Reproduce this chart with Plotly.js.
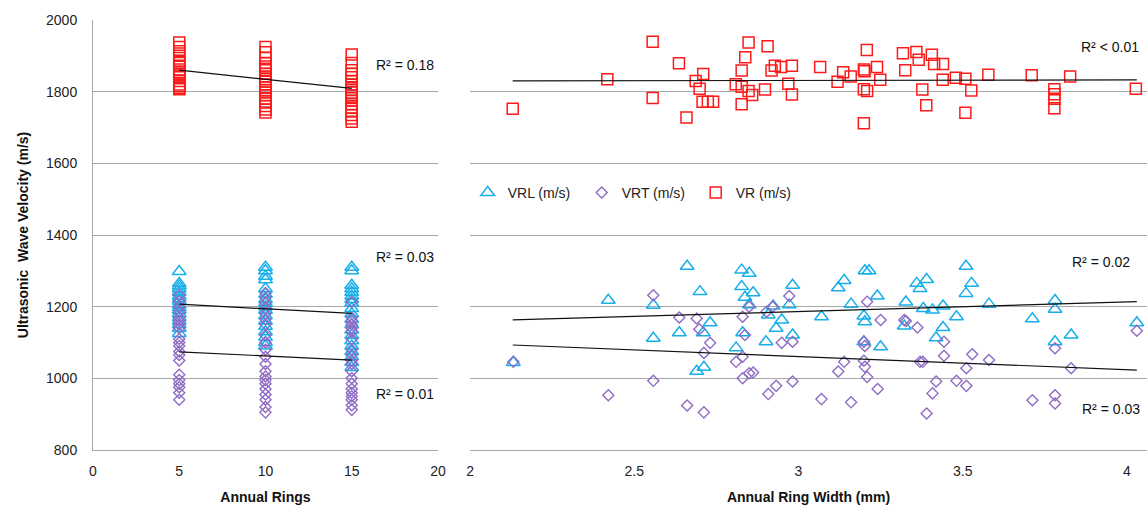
<!DOCTYPE html>
<html>
<head>
<meta charset="utf-8">
<script src="https://cdn.plot.ly/plotly-3.0.1.min.js"></script>
<style>html,body{margin:0;padding:0;background:#fff;}#chart{width:1147px;height:507px;}</style>
</head>
<body>
<div id="chart"></div>
<script>
// ---------- Left panel: velocity by number of annual rings ----------
const ringGroups = [5, 10, 15];
const vrByRing = [
  [1937, 1925, 1913, 1900, 1886, 1880, 1872, 1862, 1855, 1850, 1845, 1840, 1830, 1820, 1815, 1810, 1807],
  [1925, 1910, 1895, 1880, 1870, 1860, 1850, 1842, 1835, 1828, 1820, 1812, 1805, 1798, 1790, 1780, 1770, 1760, 1750, 1742],
  [1904, 1880, 1860, 1850, 1840, 1830, 1820, 1812, 1805, 1798, 1790, 1782, 1775, 1765, 1755, 1745, 1735, 1725, 1716]
];
const vrlByRing = [
  [1298, 1265, 1258, 1250, 1240, 1230, 1222, 1215, 1205, 1198, 1190, 1180, 1170, 1160, 1150, 1140, 1125],
  [1310, 1300, 1285, 1275, 1250, 1235, 1220, 1210, 1200, 1190, 1175, 1160, 1145, 1130, 1115, 1100, 1090],
  [1310, 1300, 1260, 1250, 1240, 1230, 1220, 1210, 1195, 1180, 1165, 1150, 1135, 1120, 1105, 1090, 1075, 1060, 1045, 1030]
];
const vrtByRing = [
  [1232, 1215, 1200, 1185, 1170, 1160, 1150, 1140, 1110, 1100, 1090, 1075, 1065, 1050, 1010, 995, 985, 975, 960, 940],
  [1238, 1225, 1210, 1195, 1180, 1165, 1150, 1120, 1100, 1080, 1060, 1040, 1020, 1005, 995, 985, 970, 955, 940, 920, 905],
  [1213, 1170, 1160, 1150, 1140, 1130, 1110, 1080, 1065, 1050, 1040, 1020, 1000, 985, 970, 960, 950, 940, 925, 912]
];
// linear trend end points (left)
const trendLeftX = [5, 15];
const trendLeftVR = [1860, 1809];
const trendLeftVRL = [1207, 1181];
const trendLeftVRT = [1074, 1051];

// ---------- Right panel: velocity by annual ring width (mm) ----------
const widthVR = [2.130, 2.418, 2.556, 2.556, 2.636, 2.659, 2.687, 2.710, 2.699, 2.708, 2.724, 2.740, 2.809, 2.827, 2.838, 2.848, 2.827, 2.848, 2.859, 2.827, 2.898, 2.906, 2.918, 2.928, 2.947, 2.980, 2.969, 2.980, 3.066, 3.119, 3.136, 3.159, 3.208, 3.199, 3.201, 3.239, 3.249, 3.199, 3.209, 3.199, 3.318, 3.325, 3.359, 3.366, 3.406, 3.413, 3.440, 3.439, 3.377, 3.389, 3.479, 3.508, 3.526, 3.508, 3.578, 3.710, 3.779, 3.779, 3.779, 3.779, 3.827, 4.027];
const velVR = [1752, 1835, 1939, 1782, 1879, 1728, 1830, 1849, 1808, 1772, 1772, 1772, 1821, 1859, 1896, 1937, 1814, 1802, 1791, 1765, 1806, 1927, 1859, 1872, 1869, 1872, 1822, 1792, 1869, 1828, 1854, 1842, 1916, 1862, 1857, 1869, 1833, 1807, 1802, 1712, 1907, 1860, 1911, 1889, 1903, 1877, 1877, 1833, 1806, 1762, 1839, 1836, 1803, 1741, 1847, 1846, 1807, 1793, 1780, 1754, 1842, 1808];

const widthVRL = [2.132, 2.421, 2.558, 2.558, 2.661, 2.700, 2.637, 2.710, 2.731, 2.690, 2.712, 2.827, 2.850, 2.827, 2.862, 2.837, 2.850, 2.830, 2.810, 2.901, 2.908, 2.923, 2.949, 2.932, 2.972, 2.982, 2.982, 3.070, 3.121, 3.139, 3.160, 3.202, 3.215, 3.199, 3.202, 3.199, 3.240, 3.250, 3.327, 3.322, 3.360, 3.370, 3.390, 3.380, 3.408, 3.440, 3.440, 3.419, 3.481, 3.510, 3.527, 3.510, 3.580, 3.712, 3.781, 3.781, 3.781, 3.830, 4.030];
const velVRL = [1044, 1218, 1204, 1112, 1313, 1242, 1127, 1127, 1155, 1020, 1031, 1302, 1293, 1256, 1239, 1226, 1205, 1127, 1085, 1102, 1177, 1202, 1163, 1140, 1205, 1260, 1121, 1172, 1253, 1273, 1207, 1300, 1300, 1174, 1158, 1102, 1230, 1088, 1213, 1146, 1265, 1251, 1276, 1195, 1191, 1202, 1142, 1113, 1172, 1313, 1265, 1237, 1207, 1166, 1217, 1193, 1102, 1121, 1155];

const widthVRT = [2.132, 2.421, 2.558, 2.558, 2.637, 2.690, 2.698, 2.731, 2.712, 2.661, 2.712, 2.810, 2.830, 2.830, 2.837, 2.850, 2.830, 2.850, 2.862, 2.903, 2.921, 2.949, 2.908, 2.932, 2.972, 2.982, 2.982, 3.070, 3.121, 3.139, 3.160, 3.209, 3.199, 3.202, 3.199, 3.202, 3.209, 3.241, 3.250, 3.322, 3.327, 3.362, 3.370, 3.378, 3.390, 3.408, 3.419, 3.443, 3.443, 3.481, 3.511, 3.511, 3.529, 3.580, 3.712, 3.781, 3.781, 3.781, 3.830, 4.030];
const velVRT = [1046, 953, 1232, 993, 1170, 1167, 1137, 1099, 1071, 924, 905, 1046, 1060, 1172, 1121, 1200, 1000, 1014, 1016, 1186, 1200, 1099, 956, 979, 1230, 1102, 991, 942, 1019, 1046, 933, 1214, 1102, 1090, 1049, 1032, 1004, 970, 1163, 1163, 1160, 1142, 1046, 1046, 902, 958, 991, 1102, 1063, 993, 1028, 979, 1067, 1051, 939, 953, 930, 1084, 1028, 1133];

const trendRightX = [2.13, 4.03];
const trendRightVR = [1830, 1833];
const trendRightVRL = [1163, 1214];
const trendRightVRT = [1093, 1023];

const seriesNames = ['VRL (m/s)', 'VRT (m/s)', 'VR (m/s)'];
const r2Labels = {
  leftVR: 'R² = 0.18', leftVRL: 'R² = 0.03', leftVRT: 'R² = 0.01',
  rightVR: 'R² < 0.01', rightVRL: 'R² = 0.02', rightVRT: 'R² = 0.03'
};

// ---------- styles ----------
const FONT = 'Liberation Sans, Arial, sans-serif';
const cVRL = '#17aee9', cVRT = '#8f6cc4', cVR = '#ff1a1a';
const mVRL = {symbol: 'triangle-up-open', size: 12, color: cVRL, line: {width: 1.5, color: cVRL}};
const mVRT = {symbol: 'diamond-open', size: 8.5, color: cVRT, line: {width: 1.4, color: cVRT}};
const mVR  = {symbol: 'square-open', size: 11, color: cVR, line: {width: 1.5, color: cVR}};

function expand(groups, vals) {
  const x = [], y = [];
  groups.forEach((g, i) => vals[i].forEach(v => { x.push(g); y.push(v); }));
  return {x, y};
}
const lVR = expand(ringGroups, vrByRing);
const lVRL = expand(ringGroups, vrlByRing);
const lVRT = expand(ringGroups, vrtByRing);

const trendLine = {color: '#111', width: 1.2};
const traces = [
  // right panel (legend)
  {x: widthVRL, y: velVRL, xaxis: 'x2', yaxis: 'y2', mode: 'markers', type: 'scatter', name: seriesNames[0], marker: mVRL},
  {x: widthVRT, y: velVRT, xaxis: 'x2', yaxis: 'y2', mode: 'markers', type: 'scatter', name: seriesNames[1], marker: mVRT},
  {x: widthVR, y: velVR, xaxis: 'x2', yaxis: 'y2', mode: 'markers', type: 'scatter', name: seriesNames[2], marker: mVR},
  // left panel
  {x: lVRL.x, y: lVRL.y, xaxis: 'x', yaxis: 'y', mode: 'markers', type: 'scatter', name: seriesNames[0], marker: mVRL, showlegend: false},
  {x: lVRT.x, y: lVRT.y, xaxis: 'x', yaxis: 'y', mode: 'markers', type: 'scatter', name: seriesNames[1], marker: mVRT, showlegend: false},
  {x: lVR.x, y: lVR.y, xaxis: 'x', yaxis: 'y', mode: 'markers', type: 'scatter', name: seriesNames[2], marker: mVR, showlegend: false},
  // trend lines
  {x: trendLeftX, y: trendLeftVR, xaxis: 'x', yaxis: 'y', mode: 'lines', line: trendLine, showlegend: false, hoverinfo: 'skip'},
  {x: trendLeftX, y: trendLeftVRL, xaxis: 'x', yaxis: 'y', mode: 'lines', line: trendLine, showlegend: false, hoverinfo: 'skip'},
  {x: trendLeftX, y: trendLeftVRT, xaxis: 'x', yaxis: 'y', mode: 'lines', line: trendLine, showlegend: false, hoverinfo: 'skip'},
  {x: trendRightX, y: trendRightVR, xaxis: 'x2', yaxis: 'y2', mode: 'lines', line: trendLine, showlegend: false, hoverinfo: 'skip'},
  {x: trendRightX, y: trendRightVRL, xaxis: 'x2', yaxis: 'y2', mode: 'lines', line: trendLine, showlegend: false, hoverinfo: 'skip'},
  {x: trendRightX, y: trendRightVRT, xaxis: 'x2', yaxis: 'y2', mode: 'lines', line: trendLine, showlegend: false, hoverinfo: 'skip'}
];

const gridC = '#a8a8a8';
const tickFont = {family: FONT, size: 14, color: '#222'};
const titleFont = {family: FONT, size: 14, color: '#111', weight: 'bold'};

function ann(xref, yref, x, y, text) {
  return {xref, yref, x, y, text, showarrow: false, xanchor: 'center', yanchor: 'middle',
          font: {family: FONT, size: 14, color: '#111'}};
}

const layout = {
  width: 1147, height: 507,
  margin: {l: 93, r: 0, t: 20, b: 57, pad: 0},
  paper_bgcolor: '#fff', plot_bgcolor: '#fff',
  showlegend: true,
  legend: {orientation: 'h', x: 0.3555, xanchor: 'left', y: 0.598, yanchor: 'middle',
           font: {family: FONT, size: 14, color: '#222'}, bgcolor: 'rgba(0,0,0,0)',
           entrywidth: 69, itemwidth: 30, tracegroupgap: 0},
  xaxis: {domain: [0, 0.3273], range: [0, 20], tickvals: [0, 5, 10, 15, 20], showgrid: false, zeroline: false,
          showline: true, linecolor: gridC, linewidth: 1, ticks: 'outside', ticklen: 8, tickcolor: 'rgba(0,0,0,0)',
          tickfont: tickFont, title: {text: 'Annual Rings', font: titleFont, standoff: 14}, automargin: false},
  yaxis: {domain: [0, 1], range: [800, 2000], dtick: 200, showgrid: true, gridcolor: gridC, gridwidth: 1, zeroline: false,
          showline: true, linecolor: gridC, linewidth: 1, ticks: 'outside', ticklen: 12, tickcolor: 'rgba(0,0,0,0)',
          tickfont: tickFont, title: {text: 'Ultrasonic  Wave Velocity (m/s)', font: titleFont, standoff: 14}, automargin: false},
  xaxis2: {domain: [0.3577, 1], range: [2, 4.061], tickvals: [2, 2.5, 3, 3.5, 4], showgrid: false, zeroline: false,
           showline: true, linecolor: gridC, linewidth: 1, ticks: 'outside', ticklen: 8, tickcolor: 'rgba(0,0,0,0)',
           tickfont: tickFont, anchor: 'y2', title: {text: 'Annual Ring Width (mm)', font: titleFont, standoff: 14}, automargin: false},
  yaxis2: {domain: [0, 1], range: [800, 2000], dtick: 200, anchor: 'x2', showgrid: true, gridcolor: gridC, gridwidth: 1,
           zeroline: false, showline: false, showticklabels: false, ticks: ''},
  annotations: [
    ann('x', 'y', 18.1, 1874, r2Labels.leftVR),
    ann('x', 'y', 18.1, 1339, r2Labels.leftVRL),
    ann('x', 'y', 18.1, 956, r2Labels.leftVRT),
    ann('x2', 'y2', 3.948, 1925, r2Labels.rightVR),
    ann('x2', 'y2', 3.921, 1325, r2Labels.rightVRL),
    ann('x2', 'y2', 3.951, 914, r2Labels.rightVRT)
  ]
};

Plotly.newPlot('chart', traces, layout, {staticPlot: true, displayModeBar: false});
</script>
</body>
</html>
